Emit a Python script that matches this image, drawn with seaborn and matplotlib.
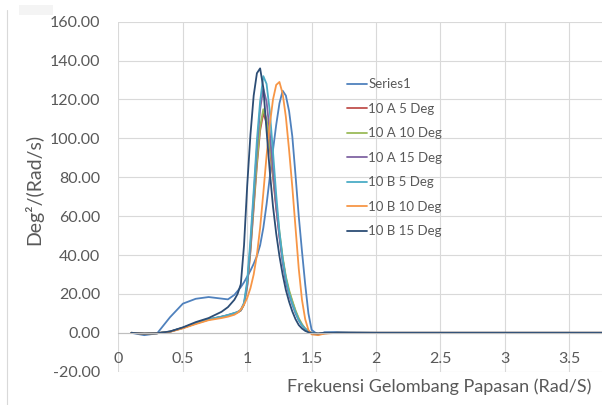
import numpy as np
import pandas as pd
import matplotlib
matplotlib.use("Agg")
import matplotlib.pyplot as plt
import seaborn as sns
from matplotlib.lines import Line2D
from matplotlib.patches import Rectangle
from matplotlib.ticker import FuncFormatter

# frequency grid (Rad/S)
freq = [0.10, 0.20, 0.30, 0.40, 0.50, 0.60, 0.70, 0.80, 0.85, 0.90,
        0.925, 0.95, 0.975, 1.00, 1.025, 1.05, 1.075, 1.10, 1.125, 1.15,
        1.175, 1.20, 1.225, 1.25, 1.275, 1.30, 1.325, 1.35, 1.375, 1.40,
        1.425, 1.45, 1.475, 1.50, 1.55, 1.60, 1.70, 1.80, 2.00, 2.50,
        3.00, 3.50, 4.00]

series1 = [0.0, -1.2, -0.3, 8.0, 15.0, 17.5, 18.4, 17.6, 17.2, 19.5,
           21.5, 23.5, 26.0, 29.0, 32.0, 35.5, 39.5, 45.0, 54.0, 66.0,
           80.0, 94.0, 107.0, 118.0, 124.5, 122.0, 114.0, 101.0, 81.0, 60.0,
           42.0, 25.0, 10.0, 1.5, -1.0, 0.3, 0.4, 0.2, 0.0, 0.0,
           0.0, 0.0, 0.0]

a_5deg = [0.0, -0.4, -0.2, 0.6, 2.5, 4.8, 6.8, 8.2, 9.0, 10.0,
          10.5, 11.5, 14.5, 24.0, 42.0, 64.0, 86.0, 104.0, 113.0, 108.0,
          95.0, 80.0, 64.0, 50.0, 38.0, 28.0, 21.0, 16.0, 11.0, 7.0,
          4.0, 2.0, 0.8, 0.0, -0.5, -0.2, 0.0, 0.0, 0.0, 0.0,
          0.0, 0.0, 0.0]

a_10deg = [0.0, -0.4, -0.2, 0.6, 2.5, 4.8, 6.8, 8.2, 9.0, 10.0,
           10.5, 11.5, 14.5, 24.5, 43.0, 66.0, 88.0, 106.0, 115.0, 110.0,
           97.0, 82.0, 66.0, 52.0, 39.0, 29.0, 22.0, 16.5, 11.5, 7.5,
           4.5, 2.2, 0.8, 0.0, -0.5, -0.2, 0.0, 0.0, 0.0, 0.0,
           0.0, 0.0, 0.0]

a_15deg = [0.0, -0.4, -0.2, 0.6, 2.6, 4.9, 6.9, 8.3, 9.1, 10.1,
           10.6, 11.6, 15.0, 25.0, 45.0, 70.0, 95.0, 115.0, 125.5, 119.0,
           103.0, 84.0, 65.0, 49.0, 36.0, 26.0, 19.5, 14.5, 10.0, 6.5,
           3.8, 2.0, 0.7, 0.0, -0.5, -0.2, 0.0, 0.0, 0.0, 0.0,
           0.0, 0.0, 0.0]

b_5deg = [0.0, -0.4, -0.2, 0.6, 2.6, 5.0, 7.0, 8.3, 9.2, 10.2,
          10.8, 11.8, 15.5, 27.0, 48.0, 73.0, 99.0, 119.0, 132.0, 128.0,
          114.0, 93.0, 71.0, 52.0, 38.0, 28.0, 20.5, 15.0, 10.5, 6.5,
          3.8, 2.0, 0.7, 0.0, -0.6, -0.2, 0.0, 0.0, 0.0, 0.0,
          0.0, 0.0, 0.0]

b_10deg = [0.0, -0.4, -0.2, 0.5, 2.3, 4.5, 6.5, 7.6, 8.3, 9.3,
           10.3, 12.0, 14.5, 18.0, 23.0, 30.0, 40.0, 54.0, 72.0, 91.0,
           107.0, 120.0, 127.5, 129.0, 123.0, 111.0, 94.0, 75.0, 54.0, 33.0,
           17.0, 7.0, 1.5, -0.8, -1.2, -0.4, 0.0, 0.0, 0.0, 0.0,
           0.0, 0.0, 0.0]

b_15deg = [0.0, -0.4, -0.2, 0.7, 2.8, 5.5, 7.6, 10.8, 13.2, 17.0,
           20.0, 25.0, 45.0, 76.0, 102.0, 122.0, 133.5, 136.0, 126.0, 104.0,
           83.0, 65.0, 51.0, 39.5, 30.0, 22.0, 16.0, 11.0, 7.0, 4.0,
           2.2, 1.0, 0.3, -0.2, -0.3, 0.0, 0.0, 0.0, 0.0, 0.0,
           0.0, 0.0, 0.0]

names = ["Series1", "10 A 5 Deg", "10 A 10 Deg", "10 A 15 Deg",
         "10 B 5 Deg", "10 B 10 Deg", "10 B 15 Deg"]
colors = ["#4F81BD", "#C0504D", "#9BBB59", "#8064A2",
          "#4BACC6", "#F79646", "#2C4D75"]

wide = pd.DataFrame({"freq": freq, names[0]: series1, names[1]: a_5deg,
                     names[2]: a_10deg, names[3]: a_15deg, names[4]: b_5deg,
                     names[5]: b_10deg, names[6]: b_15deg})
df = wide.melt(id_vars="freq", var_name="series", value_name="psd")

sns.set_style("white")
plt.rcParams["font.family"] = ["Lato", "DejaVu Sans"]
txt = "#595959"

fig = plt.figure(figsize=(6.02, 4.05), dpi=100)
ax = fig.add_axes([0.1968, 0.0822, 0.8032, 0.8642])

sns.lineplot(data=df, x="freq", y="psd", hue="series", hue_order=names,
             palette=colors, linewidth=1.3, estimator=None, sort=False,
             solid_joinstyle="round", ax=ax)

ax.set_xlim(0, 3.755)
ax.set_ylim(-20, 160)
ax.set_xticks(np.arange(0, 3.6, 0.5))
ax.set_yticks(np.arange(-20, 161, 20))
ax.xaxis.set_major_formatter(FuncFormatter(lambda v, p: f"{v:g}"))
ax.yaxis.set_major_formatter(FuncFormatter(lambda v, p: f"{v:.2f}"))
ax.grid(True, color="#D9D9D9", linewidth=0.8)
ax.set_axisbelow(True)

for s in ["top", "right", "left"]:
    ax.spines[s].set_visible(False)
ax.spines["bottom"].set_position(("data", 0))
ax.spines["bottom"].set_color("#BFBFBF")
ax.spines["bottom"].set_linewidth(0.8)

ax.tick_params(axis="x", length=0, pad=14, labelsize=11.5, labelcolor=txt)
ax.tick_params(axis="y", length=0, pad=13, labelsize=11.5, labelcolor=txt)

ax.set_xlabel("Frekuensi Gelombang Papasan (Rad/S)", fontsize=13, color=txt)
ax.xaxis.set_label_coords(0.663, -0.043)
ax.xaxis.label.set_va("center")
ax.set_ylabel("Deg²/(Rad/s)", fontsize=14, color=txt)
ax.yaxis.set_label_coords(-0.175, 0.52)
ax.yaxis.label.set_va("center")

handles, labels = ax.get_legend_handles_labels()
ax.legend(handles, labels, loc="upper left", bbox_to_anchor=(0.5764, 0.807),
          bbox_transform=fig.transFigure, frameon=False, fontsize=9.5,
          labelcolor=txt, handlelength=1.5, handletextpad=0.1,
          labelspacing=0.95, borderpad=0, borderaxespad=0)

# chart border and faint box at top-left like the original export
fig.add_artist(Line2D([7 / 602, 7 / 602], [0, 1 - 10 / 405],
                      transform=fig.transFigure, color="#D9D9D9", lw=0.8))
fig.add_artist(Rectangle((19 / 602, 1 - 15 / 405), 34 / 602, 10 / 405,
                         transform=fig.transFigure, color="#F4F4F4", lw=0))

fig.savefig("out.png", dpi=100)
